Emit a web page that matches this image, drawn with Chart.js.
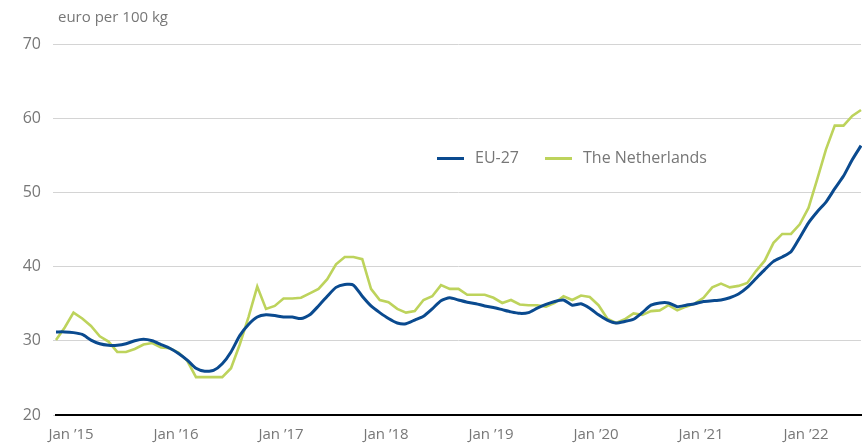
<!DOCTYPE html>
<html>
<head>
<meta charset="utf-8">
<script src="https://cdn.jsdelivr.net/npm/chart.js@4.4.0/dist/chart.umd.min.js"></script>
<style>
  body { margin: 0; background: #fff; font-family: "Open Sans", sans-serif; }
  #wrap { position: relative; width: 862px; height: 447px; }
  #unit { position: absolute; left: 58px; top: 6px; font-size: 15px; color: #777; }
  .leg { position: absolute; top: 146px; font-size: 16px; color: #777; line-height: 22px; }
  .leg i { display: inline-block; width: 27px; height: 3px; vertical-align: middle; margin-right: 11px; }
</style>
</head>
<body>
<div id="wrap">
  <canvas id="chart"></canvas>
  <div id="unit">euro per 100 kg</div>
  <div class="leg" style="left:437px"><i style="background:#0a4a8f"></i>EU-27</div>
  <div class="leg" style="left:545px"><i style="background:#bdd35c"></i>The Netherlands</div>
</div>
<script>
var monthNames = ["Jan", "Feb", "Mar", "Apr", "May", "Jun", "Jul", "Aug", "Sep", "Oct", "Nov", "Dec"];
var years = ["15", "16", "17", "18", "19", "20", "21", "22"];
var tickLabels = ["Jan ’15", "Jan ’16", "Jan ’17", "Jan ’18", "Jan ’19", "Jan ’20", "Jan ’21", "Jan ’22"];

// EU-27 average, Jan 2015 - Sep 2022
var eu27 = [
  31.2, 31.2, 31.1, 30.85, 30.1, 29.6, 29.4, 29.4, 29.6, 30.0, 30.2, 30.0,
  29.5, 29.0, 28.3, 27.4, 26.3, 25.9, 26.0, 26.9, 28.5, 30.7, 32.2, 33.2,
  33.5, 33.4, 33.2, 33.2, 33.0, 33.5, 34.7, 36.0, 37.2, 37.6, 37.5, 36.0,
  34.7, 33.8, 33.0, 32.4, 32.3, 32.8, 33.3, 34.3, 35.4, 35.8, 35.5, 35.2,
  35.0, 34.7, 34.5, 34.2, 33.9, 33.7, 33.8, 34.4, 34.9, 35.3, 35.5, 34.8,
  35.0, 34.4, 33.5, 32.8, 32.4, 32.6, 32.9, 33.8, 34.8, 35.1, 35.1, 34.6,
  34.8, 35.0, 35.3, 35.4, 35.5, 35.8, 36.3, 37.2, 38.4, 39.6, 40.7, 41.3,
  42.0, 43.9, 45.9, 47.4, 48.7, 50.5, 52.2, 54.4, 56.3
];

// The Netherlands
var netherlands = [
  30.1, 31.8, 33.8, 33.0, 32.0, 30.6, 29.9, 28.5, 28.5, 28.9, 29.5, 29.7,
  29.1, 29.0, 28.4, 27.3, 25.1, 25.1, 25.1, 25.1, 26.3, 29.5, 33.2, 37.3,
  34.3, 34.7, 35.7, 35.7, 35.8, 36.4, 37.0, 38.3, 40.3, 41.3, 41.3, 41.0,
  37.0, 35.5, 35.2, 34.3, 33.8, 34.0, 35.5, 36.0, 37.5, 37.0, 37.0, 36.2,
  36.2, 36.2, 35.8, 35.1, 35.5, 34.9, 34.8, 34.8, 34.6, 35.1, 36.0, 35.5,
  36.1, 35.9, 34.8, 33.0, 32.4, 32.9, 33.7, 33.5, 34.0, 34.1, 34.8, 34.1,
  34.6, 35.0, 35.8, 37.2, 37.7, 37.2, 37.4, 37.8, 39.4, 40.8, 43.2, 44.4,
  44.4, 45.7, 47.9, 51.8, 55.8, 59.0, 59.0, 60.3, 61.1
];

// month categories, one per value
var labels = [];
for (var i = 0; i < eu27.length; i++) {
  labels.push(monthNames[i % 12] + " ’" + years[Math.floor(i / 12)]);
}

var ctx = document.getElementById("chart").getContext("2d");
var myChart = new Chart(ctx, {
  type: "line",
  data: {
    labels: labels,
    datasets: [
      {
        label: "EU-27",
        data: eu27,
        borderColor: "#0a4a8f",
        borderWidth: 3,
        pointRadius: 0,
        tension: 0.2,
        fill: false,
      },
      {
        label: "The Netherlands",
        data: netherlands,
        borderColor: "#bdd35c",
        borderWidth: 2.6,
        pointRadius: 0,
        tension: 0,
        fill: false,
      },
    ],
  },
  options: {
    responsive: true,
    maintainAspectRatio: false,
    animation: false,
    layout: { padding: { top: 44, right: 1, left: 0, bottom: 0 } },
    plugins: { legend: { display: false }, tooltip: { enabled: false } },
    scales: {
      x: {
        grid: { display: false },
        border: { display: true, color: "#000", width: 2 },
        ticks: {
          autoSkip: false,
          maxRotation: 0,
          color: "#777",
          font: { family: "Open Sans", size: 15 },
          padding: 3,
          labelOffset: 15,
          callback: function (v, i) {
            var l = labels[i];
            return tickLabels.indexOf(l) >= 0 ? l : null;
          },
        },
        afterFit: function (s) { s.height = 32; },
      },
      y: {
        min: 20,
        max: 70,
        border: { display: false },
        grid: { color: "#d4d4d4", lineWidth: 1, tickLength: 3 },
        ticks: {
          stepSize: 10,
          color: "#777",
          font: { family: "Open Sans", size: 16 },
          padding: 12,
        },
        afterFit: function (s) { s.width = 56; },
      },
    },
  },
});
</script>
</body>
</html>
